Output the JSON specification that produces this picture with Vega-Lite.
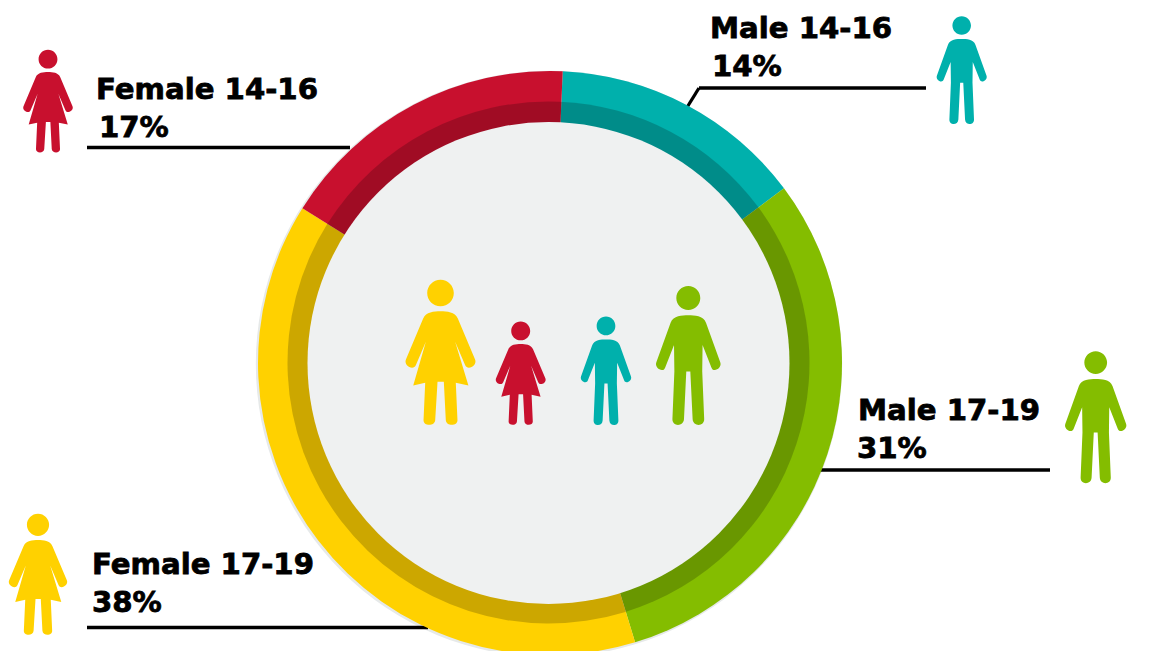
{
"$schema":"https://vega.github.io/schema/vega-lite/v6.json",
"width":1159,"height":651,"padding":0,"autosize":{"type":"none"},
"background":"#ffffff","view":{"stroke":null},
"datasets":{
"segments":[
{"segment":"Male 14-16","share":14.1,"order":1},
{"segment":"Male 17-19","share":30.5,"order":2},
{"segment":"Female 17-19","share":38.6,"order":3},
{"segment":"Female 14-16","share":16.8,"order":4}],
"leaders":[
{"segment":"Female 14-16","x":87,"y":147.5,"x2":350,"y2":147.5},
{"segment":"Male 14-16","x":699,"y":88,"x2":926,"y2":88},
{"segment":"Male 14-16","x":699,"y":88,"x2":686,"y2":109},
{"segment":"Male 17-19","x":820,"y":470,"x2":1050,"y2":470},
{"segment":"Female 17-19","x":87,"y":627.5,"x2":428,"y2":627.5}],
"labels":[
{"text":"Female 14-16","x":96,"y":99},
{"text":"17%","x":99,"y":137},
{"text":"Male 14-16","x":710,"y":37.5},
{"text":"14%","x":712,"y":75.5},
{"text":"Male 17-19","x":858,"y":420},
{"text":"31%","x":857,"y":458},
{"text":"Female 17-19","x":92,"y":574},
{"text":"38%","x":92,"y":612}],
"people":[
{"segment":"Female 17-19","sex":"Female","x":440.5,"y":352.5,"h":145},
{"segment":"Female 14-16","sex":"Female","x":520.7,"y":373.3,"h":103.3},
{"segment":"Male 14-16","sex":"Male","x":606,"y":370.7,"h":108.7},
{"segment":"Male 17-19","sex":"Male","x":688.3,"y":355.3,"h":139.3},
{"segment":"Female 14-16","sex":"Female","x":48,"y":101.3,"h":102.7},
{"segment":"Male 14-16","sex":"Male","x":961.7,"y":70,"h":108},
{"segment":"Male 17-19","sex":"Male","x":1095.7,"y":417,"h":132.3},
{"segment":"Female 17-19","sex":"Female","x":38,"y":574.5,"h":121}]
},
"data":{"name":"segments"},
"layer":[
{"transform":[{"filter":"datum.order===1"}],
"mark":{"type":"point","filled":true,"opacity":1,"shape":"circle","size":343865,"color":"#e6e9e9","strokeWidth":0},
"encoding":{
"x":{"datum":549,"type":"quantitative","axis":null,"scale":{"domain":[0,1159],"nice":false,"zero":false}},
"y":{"datum":364,"type":"quantitative","axis":null,"scale":{"domain":[0,651],"reverse":true,"nice":false,"zero":false}}}},
{"data":{"name":"leaders"},"mark":{"type":"rule","color":"#000000","strokeWidth":3.3},
"encoding":{
"x":{"field":"x","type":"quantitative","axis":null,"scale":{"domain":[0,1159],"nice":false,"zero":false}},
"y":{"field":"y","type":"quantitative","axis":null,"scale":{"domain":[0,651],"reverse":true,"nice":false,"zero":false}},
"x2":{"field":"x2"},"y2":{"field":"y2"}}},
{"transform":[{"stack":"share","sort":[{"field":"order"}],"as":["start","end"]}],
"mark":{"type":"arc","radius":292,"radius2":0},
"encoding":{
"x":{"datum":550,"type":"quantitative","axis":null,"scale":{"domain":[0,1159],"nice":false,"zero":false}},
"y":{"datum":363,"type":"quantitative","axis":null,"scale":{"domain":[0,651],"reverse":true,"nice":false,"zero":false}},
"theta":{"field":"start","type":"quantitative","scale":{"domain":[0,100],"range":[0.0436,6.3268]}},
"theta2":{"field":"end"},
"color":{"field":"segment","type":"nominal","legend":null,"scale":{"domain":["Male 14-16","Male 17-19","Female 17-19","Female 14-16"],"range":["#00b0ac","#84bd00","#ffd100","#c8102e"]}}}},
{"transform":[{"stack":"share","sort":[{"field":"order"}],"as":["start","end"]}],
"mark":{"type":"arc","radius":261,"radius2":0,"color":"#000000","opacity":0.2},
"encoding":{
"x":{"datum":548.5,"type":"quantitative","axis":null,"scale":{"domain":[0,1159],"nice":false,"zero":false}},
"y":{"datum":362.5,"type":"quantitative","axis":null,"scale":{"domain":[0,651],"reverse":true,"nice":false,"zero":false}},
"theta":{"field":"start","type":"quantitative","scale":{"domain":[0,100],"range":[0.0436,6.3268]}},
"theta2":{"field":"end"}}},
{"transform":[{"filter":"datum.order===1"}],
"mark":{"type":"point","filled":true,"opacity":1,"shape":"circle","size":232324,"color":"#eff1f1","strokeWidth":0},
"encoding":{
"x":{"datum":548.5,"type":"quantitative","axis":null,"scale":{"domain":[0,1159],"nice":false,"zero":false}},
"y":{"datum":363,"type":"quantitative","axis":null,"scale":{"domain":[0,651],"reverse":true,"nice":false,"zero":false}}}},
{"data":{"name":"people"},"mark":{"type":"point","filled":true,"opacity":1,"strokeWidth":0},
"encoding":{
"x":{"field":"x","type":"quantitative","axis":null,"scale":{"domain":[0,1159],"nice":false,"zero":false}},
"y":{"field":"y","type":"quantitative","axis":null,"scale":{"domain":[0,651],"reverse":true,"nice":false,"zero":false}},
"size":{"field":"h","type":"quantitative","legend":null,"scale":{"type":"pow","exponent":2,"domain":[0,200],"range":[0,40000]}},
"shape":{"field":"sex","type":"nominal","legend":null,"scale":{"domain":["Female","Male"],"range":[
"M0 -1.0045 C0.1013 -1.0045 0.1835 -0.9223 0.1835 -0.821 C0.1835 -0.7197 0.1013 -0.6375 0 -0.6375 C-0.1013 -0.6375 -0.1835 -0.7197 -0.1835 -0.821 C-0.1835 -0.9223 -0.1013 -1.0045 0 -1.0045 Z M0 -0.569 C0.09 -0.569 0.2 -0.56 0.239 -0.468 L0.477 0.096 C0.512 0.179 0.374 0.257 0.339 0.174 L0.202 -0.147 L0.385 0.454 L0.211 0.417 L0.234 0.931 C0.238 1.02 0.077 1.02 0.073 0.931 L0.046 0.404 L-0.041 0.404 L-0.073 0.931 C-0.077 1.02 -0.238 1.02 -0.234 0.931 L-0.211 0.417 L-0.376 0.454 L-0.202 -0.147 L-0.339 0.174 C-0.374 0.257 -0.512 0.179 -0.477 0.096 L-0.239 -0.468 C-0.2 -0.56 -0.09 -0.569 0 -0.569 Z",
"M0 -0.995 C0.095 -0.995 0.172 -0.918 0.172 -0.823 C0.172 -0.728 0.095 -0.651 0 -0.651 C-0.095 -0.651 -0.172 -0.728 -0.172 -0.823 C-0.172 -0.918 -0.095 -0.995 0 -0.995 Z M0 -0.574 C0.09 -0.574 0.215 -0.57 0.254 -0.469 L0.46 0.105 C0.487 0.186 0.36 0.258 0.333 0.177 L0.205 -0.148 L0.2 0.234 L0.228 0.915 C0.232 1.028 0.066 1.028 0.062 0.915 L0.029 0.234 L-0.029 0.234 L-0.062 0.915 C-0.066 1.028 -0.232 1.028 -0.228 0.915 L-0.2 0.234 L-0.205 -0.148 L-0.333 0.177 C-0.36 0.258 -0.487 0.186 -0.46 0.105 L-0.254 -0.469 C-0.215 -0.57 -0.09 -0.574 0 -0.574 Z"]}},
"color":{"field":"segment","type":"nominal","legend":null,"scale":{"domain":["Male 14-16","Male 17-19","Female 17-19","Female 14-16"],"range":["#00b0ac","#84bd00","#ffd100","#c8102e"]}}}},
{"data":{"name":"labels"},"mark":{"type":"text","align":"left","baseline":"alphabetic","font":"DejaVu Sans","fontWeight":"bold","fontSize":29.2,"color":"#000000","stroke":"#000000","strokeWidth":0.8},
"encoding":{
"x":{"field":"x","type":"quantitative","axis":null,"scale":{"domain":[0,1159],"nice":false,"zero":false}},
"y":{"field":"y","type":"quantitative","axis":null,"scale":{"domain":[0,651],"reverse":true,"nice":false,"zero":false}},
"text":{"field":"text"}}}
]
}
